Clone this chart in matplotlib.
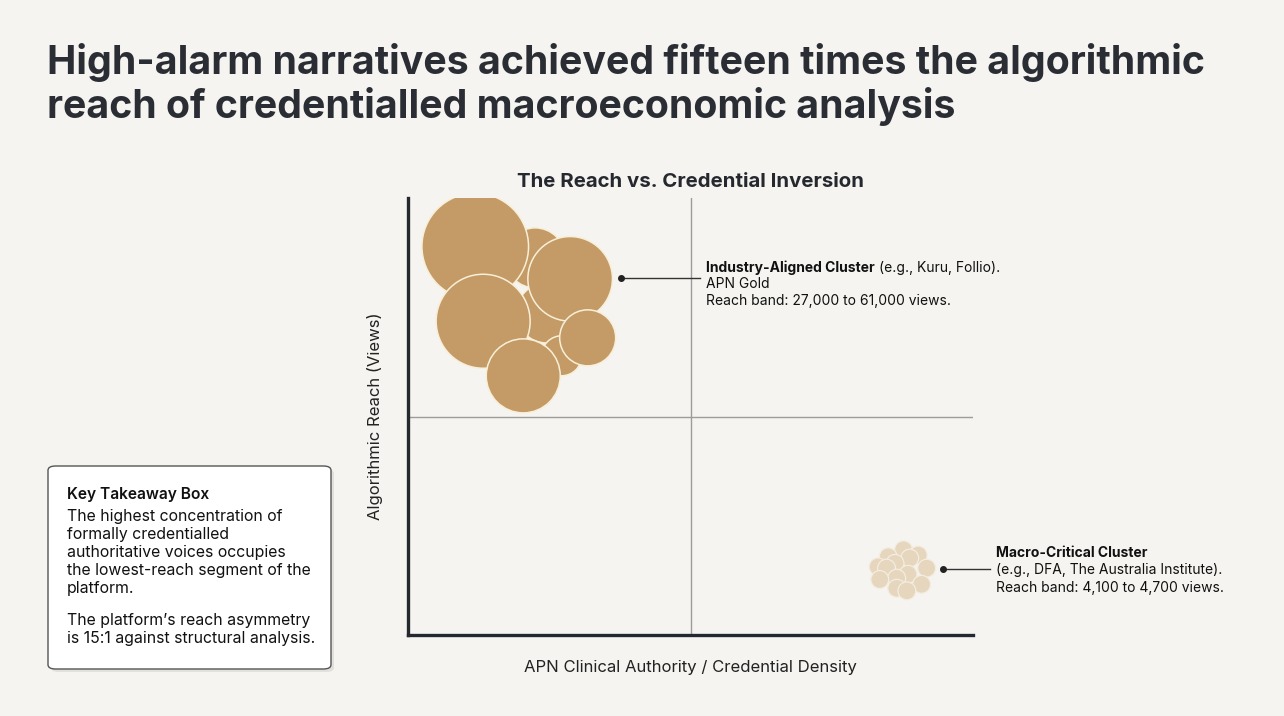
import matplotlib.pyplot as plt
from matplotlib.patches import FancyBboxPatch

plt.rcParams['font.family'] = ['Inter', 'DejaVu Sans']

# industry-aligned cluster: credential density (x), reach position (y), bubble size
ind_x = [2.25, 2.45, 2.72, 1.19, 2.87, 1.33, 3.18, 2.04]
ind_y = [8.63, 7.37, 6.39, 8.89, 8.15, 7.18, 6.80, 5.93]
ind_s = [1866, 1866, 829, 5893, 3709, 4580, 1625, 2839]

# macro-critical cluster
mac_x = [8.77, 9.03, 8.50, 8.88, 8.62, 8.32, 8.47, 9.18, 8.85, 8.65, 8.35, 9.09, 8.65, 8.83]
mac_y = [1.95, 1.83, 1.79, 1.76, 1.64, 1.56, 1.53, 1.53, 1.39, 1.30, 1.27, 1.16, 1.07, 1.01]
mac_s = [165] * len(mac_x)

bg = '#f5f4f0'
dark = '#25282e'

fig = plt.figure(figsize=(12.84, 7.16), dpi=100, facecolor=bg)
ax = fig.add_axes([408/1284, 81/716, 565/1284, 437/716])
ax.set_facecolor(bg)
ax.set_xlim(0, 10)
ax.set_ylim(0, 10)

ax.axvline(5, color='#9c9c9c', lw=1, zorder=1)
ax.axhline(5, color='#9c9c9c', lw=1, zorder=1)

ax.scatter(ind_x, ind_y, s=ind_s, color='#c49b66', edgecolor='#f8efd8', linewidth=1.1, zorder=3)
ax.scatter(mac_x, mac_y, s=mac_s, color='#e5d6bd', edgecolor='#f4ede0', linewidth=0.9, zorder=3)

for s in ['top', 'right']:
    ax.spines[s].set_visible(False)
for s in ['left', 'bottom']:
    ax.spines[s].set_color(dark)
    ax.spines[s].set_linewidth(2.4)
ax.set_xticks([])
ax.set_yticks([])

ax.set_xlabel('APN Clinical Authority / Credential Density', fontsize=12, color='#222', labelpad=18)
ax.set_ylabel('Algorithmic Reach (Views)', fontsize=12, color='#222', labelpad=18)
ax.set_title('The Reach vs. Credential Inversion', fontsize=14.7, fontweight='bold', color=dark, pad=8)

# connectors
ax.plot([3.77, 5.17], [8.17, 8.17], color='#333', lw=1, zorder=4, clip_on=False)
ax.plot([3.77], [8.17], 'o', color='#222', ms=4, zorder=5)
ax.plot([9.47, 10.30], [1.51, 1.51], color='#333', lw=1, zorder=4, clip_on=False)
ax.plot([9.47], [1.51], 'o', color='#222', ms=4, zorder=5, clip_on=False)

fs = 10
t = fig.text(706/1284, 1 - 268/716, 'Industry-Aligned Cluster', fontsize=fs, fontweight='bold', color='#111', va='center')
fig.canvas.draw()
bb = t.get_window_extent()
fig.text(bb.x1/1284 + 0.003, 1 - 268/716, '(e.g., Kuru, Follio).', fontsize=fs, color='#111', va='center')
fig.text(706/1284, 1 - 284/716, 'APN Gold', fontsize=fs, color='#111', va='center')
fig.text(706/1284, 1 - 301/716, 'Reach band: 27,000 to 61,000 views.', fontsize=fs, color='#111', va='center')

fig.text(996/1284, 1 - 553/716, 'Macro-Critical Cluster', fontsize=fs, fontweight='bold', color='#111', va='center')
fig.text(996/1284, 1 - 570/716, '(e.g., DFA, The Australia Institute).', fontsize=fs, color='#111', va='center')
fig.text(996/1284, 1 - 588/716, 'Reach band: 4,100 to 4,700 views.', fontsize=fs, color='#111', va='center')

# headline
fig.text(47/1284, 1 - 62/716, 'High-alarm narratives achieved fifteen times the algorithmic',
         fontsize=28.3, fontweight='bold', color='#2a2d33', va='center')
fig.text(47/1284, 1 - 107/716, 'reach of credentialled macroeconomic analysis',
         fontsize=28.3, fontweight='bold', color='#2a2d33', va='center')

# takeaway box
shadow = FancyBboxPatch((51/1284, 1 - 672/716), 283/1284, 203/716,
                        boxstyle='round,pad=0,rounding_size=0.006', transform=fig.transFigure,
                        facecolor='#000000', alpha=0.08, edgecolor='none')
box = FancyBboxPatch((48/1284, 1 - 669/716), 283/1284, 203/716,
                     boxstyle='round,pad=0,rounding_size=0.006', transform=fig.transFigure,
                     facecolor='#ffffff', edgecolor='#555555', linewidth=1)
fig.patches.extend([shadow, box])

fig.text(67/1284, 1 - 494/716, 'Key Takeaway Box', fontsize=11.2, fontweight='semibold', color='#111', va='center')
fig.text(67/1284, 1 - 509/716,
         'The highest concentration of\nformally credentialled\nauthoritative voices occupies\n'
         'the lowest-reach segment of the\nplatform.',
         fontsize=11.4, color='#111', va='top', linespacing=1.24)
fig.text(67/1284, 1 - 613/716, 'The platform\u2019s reach asymmetry\nis 15:1 against structural analysis.',
         fontsize=11.4, color='#111', va='top', linespacing=1.24)

fig.savefig('out.png', dpi=100, facecolor=bg)
